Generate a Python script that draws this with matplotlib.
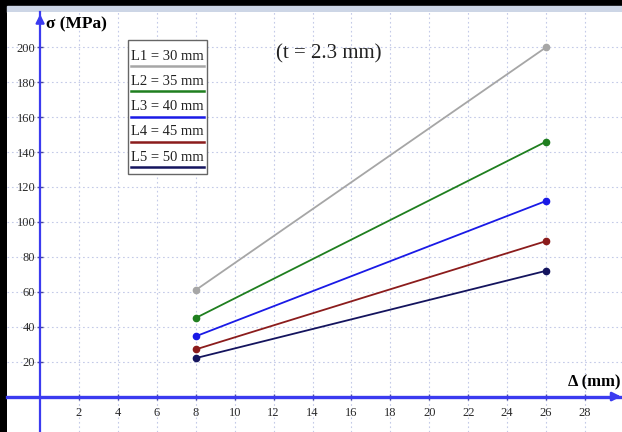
import matplotlib
matplotlib.use('Agg')
import matplotlib.pyplot as plt
from matplotlib.patches import Rectangle
from matplotlib.lines import Line2D

# data
delta = [8, 26]
labels = ['L1 = 30 mm', 'L2 = 35 mm', 'L3 = 40 mm', 'L4 = 45 mm', 'L5 = 50 mm']
sigma_L1 = [61, 200]
sigma_L2 = [45, 146]
sigma_L3 = [34.5, 112]
sigma_L4 = [27, 89]
sigma_L5 = [22, 72]
colors = ['#a6a6a6', '#1f7f1f', '#1a1ae6', '#8b1c1c', '#14145e']
x_ticks = list(range(2, 30, 2))
y_ticks = list(range(20, 220, 20))

plt.rcParams['font.family'] = ['Liberation Serif', 'DejaVu Serif']
axis_blue = '#3b3bf0'

FIG = plt.figure(figsize=(6.22, 4.32), dpi=100)
FIG.patch.set_facecolor('white')
# window frame
FIG.add_artist(Rectangle((0, 0), 7 / 622, 1, transform=FIG.transFigure, color='black', zorder=0))
FIG.add_artist(Rectangle((0, 1 - 6 / 432), 1, 6 / 432, transform=FIG.transFigure, color='black', zorder=0))
FIG.add_artist(Rectangle((7 / 622, 1 - 12 / 432), 1, 6 / 432, transform=FIG.transFigure, color='#cdd6e6', zorder=0))

AX = FIG.add_axes([7 / 622, 0, 615 / 622, 420 / 432])
AX.set_xlim(-1.7, 29.9)
AX.set_ylim(-20.3, 220.2)

AX.set_xticks(x_ticks)
AX.set_yticks(y_ticks)
AX.grid(True, color='#c4cae8', linestyle=(0, (1.5, 2.5)), linewidth=0.8)
AX.set_axisbelow(True)

for side in ['top', 'right']:
	AX.spines[side].set_visible(False)
AX.spines['left'].set_position(('data', 0))
AX.spines['bottom'].set_position(('data', 0))
AX.spines['left'].set_color(axis_blue)
AX.spines['bottom'].set_color(axis_blue)
AX.spines['left'].set_linewidth(1.6)
AX.spines['bottom'].set_linewidth(2.4)
AX.tick_params(axis='both', direction='inout', length=5, width=1, color='#4a4a9a',
	labelsize=9, labelcolor='#2a2a2a')
AX.tick_params(axis='x', pad=5)
AX.tick_params(axis='y', pad=1)

# arrows
AX.annotate('', xy=(0, 220.5), xytext=(0, 214), annotation_clip=False,
	arrowprops=dict(arrowstyle='-|>,head_length=0.5,head_width=0.25', color=axis_blue, lw=1.6))
AX.annotate('', xy=(30.0, 0), xytext=(29.2, 0), annotation_clip=False,
	arrowprops=dict(arrowstyle='-|>,head_length=0.5,head_width=0.25', color=axis_blue, lw=2))

series = [sigma_L1, sigma_L2, sigma_L3, sigma_L4, sigma_L5]
for vals, col in zip(series, colors):
	AX.plot(delta, vals, color=col, linewidth=1.3, marker='o', markersize=4.5, zorder=3)

AX.text(0.3, 213, 'σ (MPa)', fontsize=12.5, fontweight='bold', va='center', ha='left')
AX.text(27.1, 8, 'Δ (mm)', fontsize=12, fontweight='bold', va='center', ha='left')
AX.text(12.1, 196, '(t = 2.3 mm)', fontsize=15, va='center', ha='left', color='#222222')

# legend box drawn by hand: text with coloured underline
lx0, lx1 = 128 / 622, 207 / 622
ly_top, ly_bot = 1 - 40 / 432, 1 - 174 / 432
FIG.add_artist(Rectangle((lx0, ly_bot), lx1 - lx0, ly_top - ly_bot, transform=FIG.transFigure,
	facecolor='white', edgecolor='#666666', linewidth=1, zorder=4))
for i, (lab, col) in enumerate(zip(labels, colors)):
	ty = 1 - (56 + i * 25.3) / 432
	uy = 1 - (66 + i * 25.3) / 432
	FIG.text(lx0 + 3 / 622, ty, lab, fontsize=10.5, va='center', ha='left', zorder=5, color='#222222')
	FIG.add_artist(Line2D([lx0 + 3 / 622, lx1 - 3 / 622], [uy, uy], transform=FIG.transFigure,
		color=col, linewidth=1.8, zorder=5))

plt.savefig('out.png', dpi=100)
